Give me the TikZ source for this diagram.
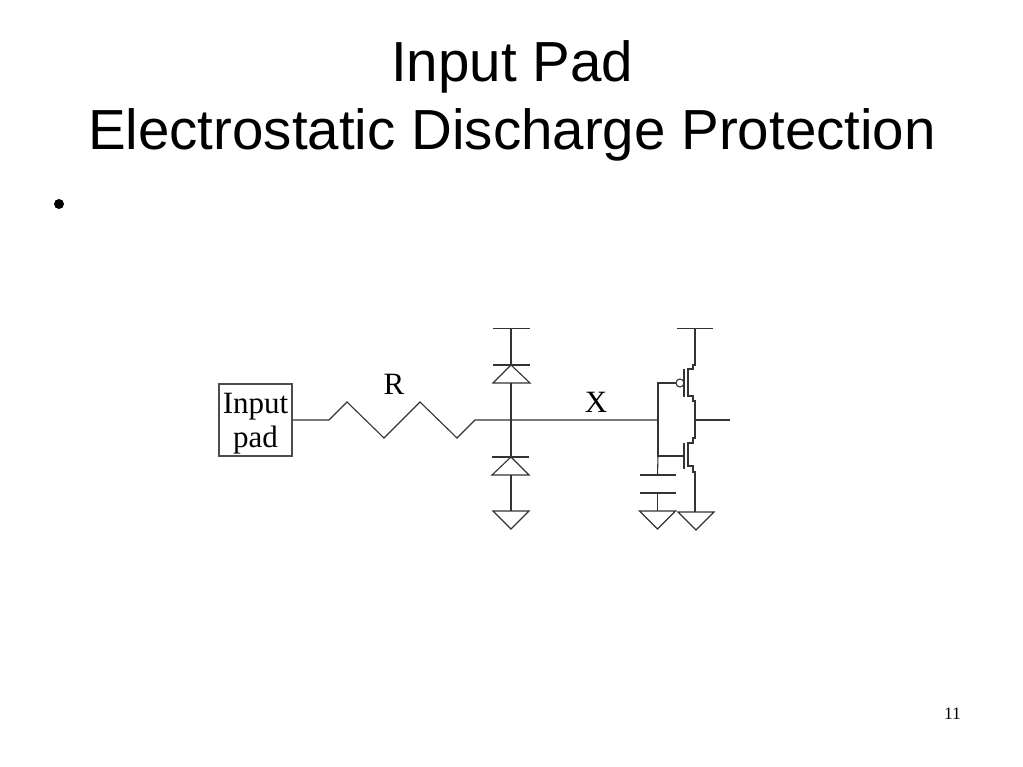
\documentclass[tikz,border=0pt]{standalone}
\usepackage{fontspec}
\setmainfont{Liberation Serif}
\newfontfamily\titlefont{Liberation Sans}
\usetikzlibrary{positioning}
\tikzset{
  wire/.style={line width=1.1pt,color=black!80},
  titletext/.style={font=\titlefont\fontsize{56.5}{68}\selectfont,align=center,inner sep=0pt},
  labeltext/.style={font=\fontsize{31}{34}\selectfont,inner sep=0pt}
}
\begin{document}
\begin{tikzpicture}[x=1pt,y=-1pt]
  \useasboundingbox[fill=white] (0,0) rectangle (1023,767);
  % title and bullet
  \node[titletext] (title) at (512,101) {Input Pad\\Electrostatic Discharge Protection};
  \fill (59,204) circle (5);
  \node[font=\fontsize{17.5}{20}\selectfont,inner sep=0pt] (pageno) at (952.5,714) {11};
  % pad and resistor
  \node[draw=black!70,line width=1.1pt,minimum width=73pt,minimum height=72pt,inner sep=0pt] (pad) at (255.5,420) {};
  \node[labeltext,align=center] (padtext) at (255.5,424) {Input\\pad};
  \node[labeltext] (labelR) at (394,384) {R};
  \node[labeltext] (labelX) at (596,402) {X};
  \coordinate (nodeD) at (511,420);
  \coordinate (nodeG) at (658,420);
  \coordinate (nodeOut) at (695,420);
  \coordinate (nodeGN) at (658,456);
  \draw[wire] (pad.east) -- (329,420) -- (347,402) -- (384,438) -- (420,402)
     -- (457,438) -- (475,420) -- (nodeD) -- (nodeG);
  % diodes
  \draw[wire] (493,328.5) -- (530,328.5);
  \draw[wire] (511,328.5) -- (511,365);
  \draw[wire] (493,365) -- (530,365);
  \draw[wire] (511,365) -- (493,383) -- (530,383) -- cycle;
  \draw[wire] (511,383) -- (nodeD) -- (511,457);
  \draw[wire] (492,457) -- (529,457);
  \draw[wire] (511,457) -- (492,475) -- (529,475) -- cycle;
  \draw[wire] (511,475) -- (511,511);
  % grounds
  \foreach \gx/\gy in {511/511,657.5/511,696/512}
    \draw[wire] (\gx-18,\gy) -- (\gx+18,\gy) -- (\gx,\gy+18) -- cycle;
  % inverter gates
  \draw[wire] (nodeG) -- (658,383) -- (676,383);
  \draw[wire] (680,383) circle (4);
  \draw[wire] (nodeG) -- (nodeGN) -- (684,456);
  \draw[wire] (684,369) -- (684,397);
  \draw[wire] (684,443) -- (684,469);
  % inverter channels
  \draw[wire] (695,328.5) -- (695,365) -- (693,365) -- (693,369) -- (688,369) -- (688,396)
     -- (693,396) -- (693,401) -- (695,401) -- (nodeOut);
  \draw[wire] (nodeOut) -- (695,438) -- (693,438) -- (693,443) -- (688,443) -- (688,466)
     -- (693,466) -- (693,472) -- (695,472) -- (695,512);
  \draw[wire] (677,328.5) -- (713,328.5);
  \draw[wire] (nodeOut) -- (730,420);
  % capacitor
  \draw[wire] (nodeGN) -- (657.5,475);
  \draw[wire] (640,475) -- (676,475);
  \draw[wire] (640,493) -- (676,493);
  \draw[wire] (657.5,493) -- (657.5,511);
\end{tikzpicture}
\end{document}
